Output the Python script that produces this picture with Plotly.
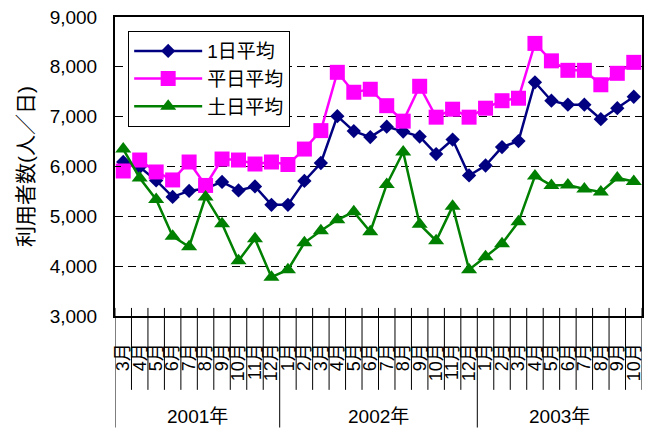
import plotly.graph_objects as go

# Monthly daily-average ridership, March 2001 - October 2003
months = ["3月", "4月", "5月", "6月", "7月", "8月", "9月", "10月", "11月", "12月",
          "1月", "2月", "3月", "4月", "5月", "6月", "7月", "8月", "9月", "10月", "11月", "12月",
          "1月", "2月", "3月", "4月", "5月", "6月", "7月", "8月", "9月", "10月"]
years = ["2001年"] * 10 + ["2002年"] * 12 + ["2003年"] * 10

avg_all = [6090, 5990, 5720, 5390, 5510, 5560, 5690, 5520, 5600, 5230,
           5230, 5710, 6070, 7010, 6710, 6590, 6800, 6700, 6600, 6250, 6540, 5820,
           6020, 6390, 6510, 7690, 7320, 7240, 7240, 6950, 7170, 7400]
avg_weekday = [5910, 6130, 5890, 5730, 6090, 5620, 6150, 6130, 6050, 6090,
               6040, 6350, 6720, 7890, 7490, 7550, 7220, 6910, 7610, 6990, 7150, 6990,
               7170, 7320, 7370, 8470, 8120, 7930, 7930, 7640, 7870, 8090]
avg_weekend = [6350, 5770, 5340, 4600, 4390, 5390, 4850, 4110, 4550, 3780,
               3930, 4470, 4710, 4930, 5090, 4690, 5640, 6290, 4840, 4510, 5200, 3930,
               4190, 4450, 4890, 5810, 5620, 5630, 5550, 5490, 5770, 5700]

y_ticks = [3000, 4000, 5000, 6000, 7000, 8000, 9000]

FONT = "Liberation Sans, Noto Sans CJK JP, sans-serif"
x = list(range(len(months)))

series = [
    ("1日平均", avg_all, "#000080", "diamond", 11),
    ("平日平均", avg_weekday, "#FF00FF", "square", 15),
    ("土日平均", avg_weekend, "#008000", "triangle-up", 14),
]

fig = go.Figure()
for name, vals, color, symbol, size in series:
    fig.add_trace(go.Scatter(
        x=x, y=vals, name=name, mode="lines+markers",
        line=dict(color=color, width=2.5),
        marker=dict(symbol=symbol, size=size, color=color),
        legendgroup=name,
    ))

# Category dividers below the axis: short ones between months,
# long ones at year boundaries
shapes = []
n = len(months)
for b in range(n + 1):
    xb = b - 0.5
    year_edge = (b == 0) or (0 < b < n and years[b] != years[b - 1])
    shapes.append(dict(
        type="line", xref="x", yref="paper", x0=xb, x1=xb,
        y0=0.027, y1=(-0.373 if year_edge else -0.247),
        line=dict(color="black", width=1),
    ))

# Year labels centred under each group of months
annotations = []
for yr in dict.fromkeys(years):
    idx = [i for i, v in enumerate(years) if v == yr]
    annotations.append(dict(
        x=sum(idx) / len(idx), y=-0.337, xref="x", yref="paper",
        text=yr, showarrow=False, font=dict(family=FONT, size=19, color="black"),
        xanchor="center", yanchor="middle",
    ))

fig.update_layout(
    width=651, height=428,
    margin=dict(l=115, r=7, t=16, b=112),
    plot_bgcolor="white", paper_bgcolor="white",
    font=dict(family=FONT, color="black"),
    shapes=shapes, annotations=annotations,
    legend=dict(
        x=0.025, y=0.953, xanchor="left", yanchor="top",
        bgcolor="white", bordercolor="black", borderwidth=1,
        font=dict(family=FONT, size=19, color="black"),
        itemwidth=68, tracegroupgap=0,
    ),
)

fig.update_xaxes(
    range=[-0.5, n - 0.5],
    tickmode="array", tickvals=x, ticktext=months,
    tickangle=-90, tickfont=dict(family=FONT, size=18, color="black"),
    ticks="", ticklabelstandoff=18,
    showline=True, linecolor="black", linewidth=2, mirror=True,
    showgrid=False, zeroline=False,
)
fig.update_yaxes(
    range=[3000, 9000], tickmode="array", tickvals=y_ticks, tickformat=",d",
    tickfont=dict(family=FONT, size=19, color="black"),
    ticks="inside", ticklen=6, tickcolor="black", ticklabelstandoff=12,
    showline=True, linecolor="black", linewidth=2, mirror=True,
    showgrid=True, gridcolor="black", gridwidth=1, griddash="8px,5px",
    zeroline=False,
    title=dict(text="利用者数(人／日)", font=dict(family=FONT, size=21, color="black"),
               standoff=10),
)

fig.write_html("out.html")
